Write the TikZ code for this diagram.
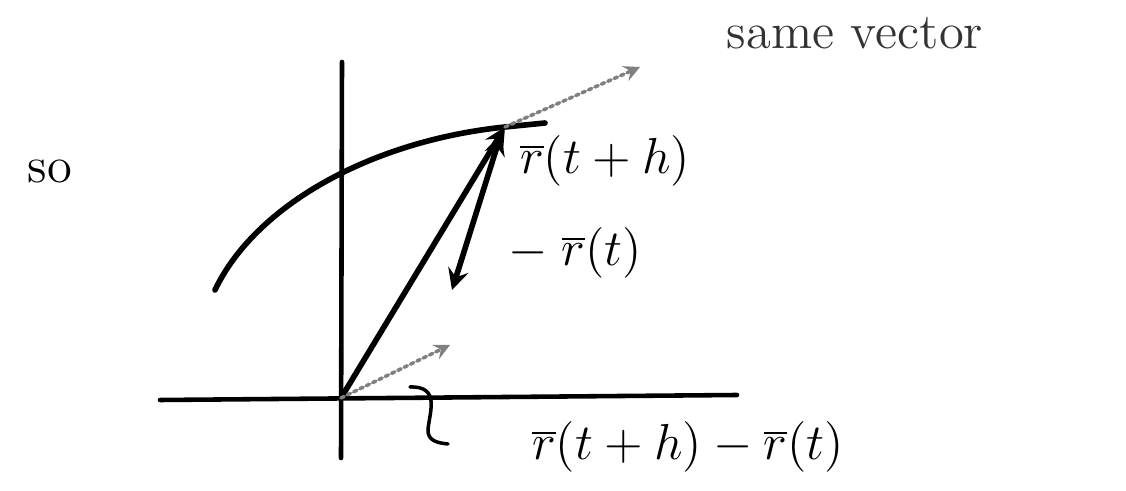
\documentclass[tikz,border=0pt]{standalone}
\begin{document}
\begin{tikzpicture}[>=stealth, line cap=round,
  vec/.style={line width=1.6pt},
  faint/.style={gray, line width=1pt, densely dotted},
  lbl/.style={font=\Large}]
  \useasboundingbox (0,0) rectangle (11.26,4.91);
  % axes
  \coordinate (O) at (3.41,0.93);
  \coordinate (ytop) at (3.42,4.29);
  \coordinate (ybot) at (3.41,0.33);
  \coordinate (xl) at (1.60,0.91);
  \coordinate (xr) at (7.37,0.96);
  \draw[line width=1.3pt] (ybot) -- (ytop);
  \draw[line width=1.3pt] (xl) -- (xr);
  % the curve and its point
  \coordinate (P) at (5.05,3.64);
  \draw[vec] (2.15,2.01) .. controls (2.55,2.85) and (3.70,3.50) .. (P) -- (5.45,3.68);
  \coordinate (D) at (4.52,2.01);
  \coordinate (Q) at (4.50,1.46);
  \coordinate (far) at (6.40,4.24);
  \draw[vec,->] (O) -- (P);
  \draw[vec,<->] ([shift={(-0.04,-0.07)}]P) -- (D);
  \draw[faint,->] (O) -- (Q);
  \draw[faint,->] (P) -- (far);
  % pointer from the label
  \draw[line width=1pt] (4.10,1.04) .. controls (4.40,1.05) and (4.30,0.80) .. (4.28,0.62)
    .. controls (4.27,0.50) and (4.38,0.48) .. (4.48,0.47);
  % labels
  \node[lbl, gray!40!black] (same) at (8.55,4.58) {same vector};
  \node[lbl] (so) at (0.50,3.20) {so};
  \node[lbl] (rth) at (6.05,3.30) {$\overline{r}(t+h)$};
  \node[lbl] (mrt) at (5.75,2.38) {$-\;\overline{r}(t)$};
  \node[lbl] (diff) at (6.88,0.44) {$\overline{r}(t+h)-\overline{r}(t)$};
\end{tikzpicture}
\end{document}
